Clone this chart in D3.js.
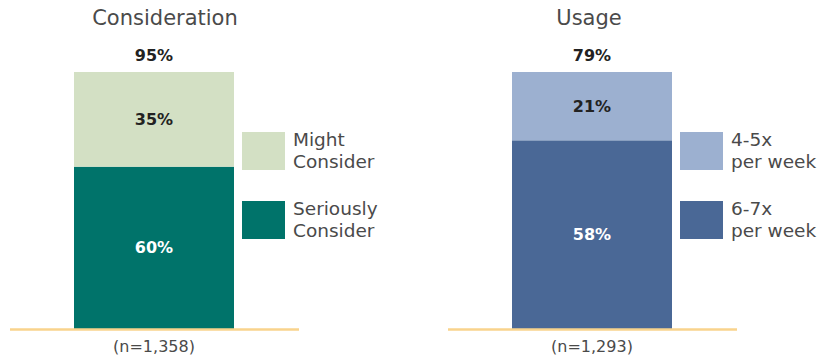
<!DOCTYPE html>
<html>
<head>
<meta charset="utf-8">
<script src="https://cdn.jsdelivr.net/npm/d3@7"></script>
<style>
  html, body { margin: 0; padding: 0; background: #fff; }
  svg { display: block; }
  text { font-family: "DejaVu Sans", "Open Sans", sans-serif; }
</style>
</head>
<body>
<svg id="chart" width="823" height="358"></svg>
<script>
// Two stacked bars, each on its own scale topped by its total.
const panels = ["Consideration", "Usage"];
const lowerValues = [60, 58];
const upperValues = [35, 21];
const totals = [95, 79];
const sampleSizes = ["(n=1,358)", "(n=1,293)"];
const upperLegend = [["Might", "Consider"], ["4-5x", "per week"]];
const lowerLegend = [["Seriously", "Consider"], ["6-7x", "per week"]];
const upperColors = ["#d3e0c4", "#9cb0d0"];
const lowerColors = ["#00736a", "#4a6896"];

const svg = d3.select("#chart");
const baseY = 329, topY = 72;
const titleShift = [11, -3];

const x = d3.scaleBand()
  .domain(panels)
  .range([74, 672])
  .paddingInner(0.6347)
  .paddingOuter(0);

panels.forEach((name, i) => {
  const y = d3.scaleLinear().domain([0, totals[i]]).range([baseY, topY]);
  const x0 = x(name);
  const bw = x.bandwidth();
  const cx = x0 + bw / 2;
  const g = svg.append("g");

  // panel title
  g.append("text")
    .attr("x", cx + titleShift[i]).attr("y", 25)
    .attr("text-anchor", "middle")
    .attr("font-size", 21)
    .attr("fill", "#4a4a4a")
    .text(name);

  // stacked segments
  g.append("rect")
    .attr("x", x0).attr("width", bw)
    .attr("y", y(lowerValues[i])).attr("height", y(0) - y(lowerValues[i]))
    .attr("fill", lowerColors[i]);
  g.append("rect")
    .attr("x", x0).attr("width", bw)
    .attr("y", y(lowerValues[i] + upperValues[i]))
    .attr("height", y(lowerValues[i]) - y(lowerValues[i] + upperValues[i]))
    .attr("fill", upperColors[i]);

  // value labels
  g.append("text")
    .attr("x", cx).attr("y", y(lowerValues[i] / 2))
    .attr("dy", "0.35em").attr("text-anchor", "middle")
    .attr("font-size", 16).attr("font-weight", "bold").attr("fill", "#fff")
    .text(lowerValues[i] + "%");
  g.append("text")
    .attr("x", cx).attr("y", y(lowerValues[i] + upperValues[i] / 2))
    .attr("dy", "0.35em").attr("text-anchor", "middle")
    .attr("font-size", 16).attr("font-weight", "bold").attr("fill", "#222")
    .text(upperValues[i] + "%");
  g.append("text")
    .attr("x", cx).attr("y", 55)
    .attr("dy", "0.35em").attr("text-anchor", "middle")
    .attr("font-size", 16).attr("font-weight", "bold").attr("fill", "#222")
    .text(totals[i] + "%");

  // baseline
  g.append("line")
    .attr("x1", x0 - 64).attr("x2", x0 + 225)
    .attr("y1", baseY + 0.5).attr("y2", baseY + 0.5)
    .attr("stroke", "#f9d38c").attr("stroke-width", 2.5);

  // sample size
  g.append("text")
    .attr("x", cx).attr("y", 346)
    .attr("dy", "0.35em").attr("text-anchor", "middle")
    .attr("font-size", 16).attr("fill", "#4a4a4a")
    .text(sampleSizes[i]);

  // legend
  const legend = [
    { lines: upperLegend[i], color: upperColors[i], top: 132 },
    { lines: lowerLegend[i], color: lowerColors[i], top: 201 }
  ];
  legend.forEach(item => {
    g.append("rect")
      .attr("x", x0 + 168).attr("y", item.top)
      .attr("width", 43).attr("height", 38)
      .attr("fill", item.color);
    const t = g.append("text")
      .attr("x", x0 + 219).attr("y", item.top + 8)
      .attr("font-size", 18.5).attr("fill", "#4a4a4a");
    item.lines.forEach((ln, k) => {
      t.append("tspan")
        .attr("x", x0 + 219).attr("dy", k === 0 ? "0.35em" : 22)
        .text(ln);
    });
  });
});
</script>
</body>
</html>
